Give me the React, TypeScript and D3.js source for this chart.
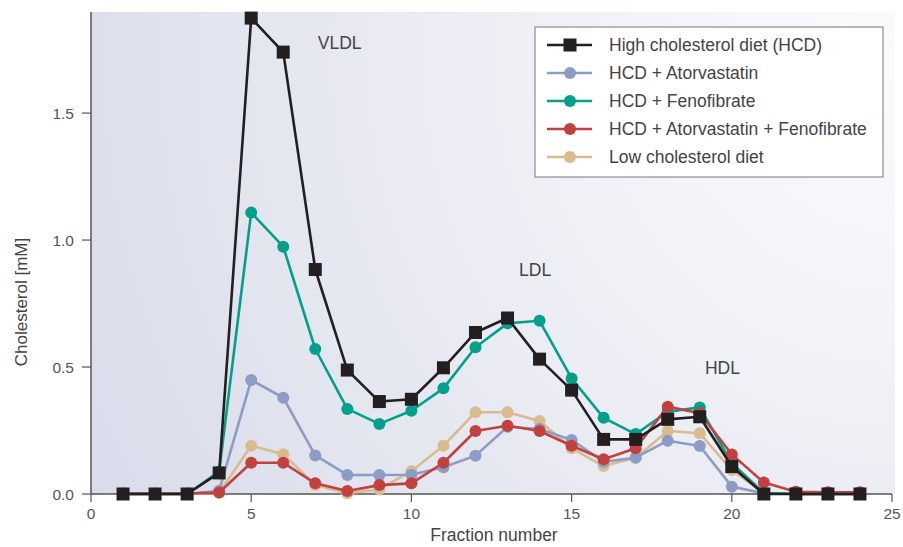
import React from "react";
import * as d3 from "d3";

const fractions = [1,2,3,4,5,6,7,8,9,10,11,12,13,14,15,16,17,18,19,20,21,22,23,24];
const hcd = [0,0,0,0.083,1.874,1.74,0.884,0.488,0.364,0.373,0.497,0.636,0.693,0.531,0.409,0.215,0.215,0.294,0.304,0.108,0,0,0,0];
const atorva = [0,0,0,0.013,0.449,0.379,0.152,0.075,0.075,0.076,0.105,0.151,0.265,0.256,0.213,0.127,0.143,0.21,0.189,0.029,0.003,0,0,0];
const fenofib = [0,0,0,0.088,1.108,0.974,0.571,0.335,0.276,0.328,0.416,0.578,0.672,0.682,0.455,0.30,0.236,0.324,0.341,0.121,0.004,0,0,0];
const combo = [0.002,0.002,0.002,0.006,0.123,0.123,0.042,0.012,0.035,0.042,0.123,0.248,0.269,0.248,0.19,0.137,0.18,0.344,0.318,0.156,0.045,0.009,0.007,0.007];
const lowChol = [0,0,0,0.005,0.19,0.157,0.035,0.003,0.018,0.09,0.19,0.322,0.322,0.287,0.18,0.11,0.143,0.248,0.239,0.094,0.005,0,0,0];

const seriesNames = [
  "High cholesterol diet (HCD)",
  "HCD + Atorvastatin",
  "HCD + Fenofibrate",
  "HCD + Atorvastatin + Fenofibrate",
  "Low cholesterol diet",
];
const xTicks = [0, 5, 10, 15, 20, 25];
const yTicks = [0, 0.5, 1.0, 1.5];
const peakLabels = [
  { text: "VLDL", x: 7.08, y: 1.752 },
  { text: "LDL", x: 13.36, y: 0.858 },
  { text: "HDL", x: 19.16, y: 0.472 },
];

const W = 903, H = 547;
const M = { left: 91, right: 892, top: 12, bottom: 494 };
const FONT = "'Liberation Sans', Arial, Helvetica, sans-serif";

export default function App() {
  const x = d3.scaleLinear().domain([0, 25]).range([M.left, M.right]);
  const y = d3.scaleLinear().domain([0, 1.898]).range([M.bottom, M.top]);
  const line = d3.line<number>().x((_, i) => x(fractions[i])).y((d) => y(d));

  const series = [
    { name: seriesNames[0], data: hcd, color: "#231f20", marker: "square" },
    { name: seriesNames[1], data: atorva, color: "#8c9cc4", marker: "circle" },
    { name: seriesNames[2], data: fenofib, color: "#00a08a", marker: "circle" },
    { name: seriesNames[3], data: combo, color: "#c2413f", marker: "circle" },
    { name: seriesNames[4], data: lowChol, color: "#d9bc8e", marker: "circle" },
  ];
  const drawOrder = [4, 1, 2, 3, 0];

  const marker = (s: any, cx: number, cy: number, key: any) =>
    s.marker === "square" ? (
      <rect key={key} x={cx - 6.5} y={cy - 6.5} width={13} height={13} fill={s.color} />
    ) : (
      <circle key={key} cx={cx} cy={cy} r={6} fill={s.color} />
    );

  const legX = 535, legY = 27, legW = 348, legH = 150;
  const legRowY = (i: number) => legY + 18 + i * 28;

  return (
    <svg width={W} height={H} style={{ position: "absolute", left: 0, top: 0, fontFamily: FONT }}>
      <defs>
        <radialGradient id="bg" gradientUnits="userSpaceOnUse" cx={900} cy={60} r={900}>
          <stop offset="0" stopColor="#fbfbfd" />
          <stop offset="0.35" stopColor="#f1f2f7" />
          <stop offset="1" stopColor="#d9dcea" />
        </radialGradient>
      </defs>
      <rect x={0} y={0} width={W} height={H} fill="#ffffff" />
      <rect x={M.left} y={M.top} width={W - 8 - M.left} height={M.bottom - M.top} fill="url(#bg)" />

      {/* axes */}
      <line x1={M.left} x2={M.right} y1={M.bottom} y2={M.bottom} stroke="#555" strokeWidth={1.5} />
      <line x1={M.left} x2={M.left} y1={M.top} y2={M.bottom} stroke="#555" strokeWidth={1.5} />
      {xTicks.map((t) => (
        <g key={"xt" + t}>
          <line x1={x(t)} x2={x(t)} y1={M.bottom} y2={M.bottom + 8} stroke="#555" strokeWidth={1.2} />
          <text x={x(t)} y={M.bottom + 25} textAnchor="middle" fontSize={15.5} fill="#555">{t}</text>
        </g>
      ))}
      {yTicks.map((t) => (
        <g key={"yt" + t}>
          <line x1={M.left - 9} x2={M.left} y1={y(t)} y2={y(t)} stroke="#555" strokeWidth={1.2} />
          <text x={M.left - 17} y={y(t) + 5.5} textAnchor="end" fontSize={15.5} fill="#555">{t.toFixed(1)}</text>
        </g>
      ))}
      <text x={494} y={541} textAnchor="middle" fontSize={17.5} fill="#444">Fraction number</text>
      <text transform={`translate(27,${302}) rotate(-90)`} textAnchor="middle" fontSize={17} fill="#444">Cholesterol [mM]</text>

      {/* series */}
      {drawOrder.map((si) => {
        const s = series[si];
        return (
          <g key={"s" + si}>
            <path d={line(s.data) || ""} fill="none" stroke={s.color} strokeWidth={2.6} strokeLinejoin="round" />
            {s.data.map((v, i) => marker(s, x(fractions[i]), y(v), i))}
          </g>
        );
      })}

      {peakLabels.map((p) => (
        <text key={p.text} x={x(p.x)} y={y(p.y)} fontSize={17.5} fill="#444">{p.text}</text>
      ))}

      {/* legend */}
      <rect x={legX} y={legY} width={legW} height={legH} fill="#ffffff" stroke="#777" strokeWidth={1} />
      {series.map((s, i) => (
        <g key={"lg" + i}>
          <line x1={547} x2={592} y1={legRowY(i)} y2={legRowY(i)} stroke={s.color} strokeWidth={2.6} />
          {marker(s, 570, legRowY(i), "m")}
          <text x={609} y={legRowY(i) + 6} fontSize={17.5} fill="#444">{s.name}</text>
        </g>
      ))}
    </svg>
  );
}
